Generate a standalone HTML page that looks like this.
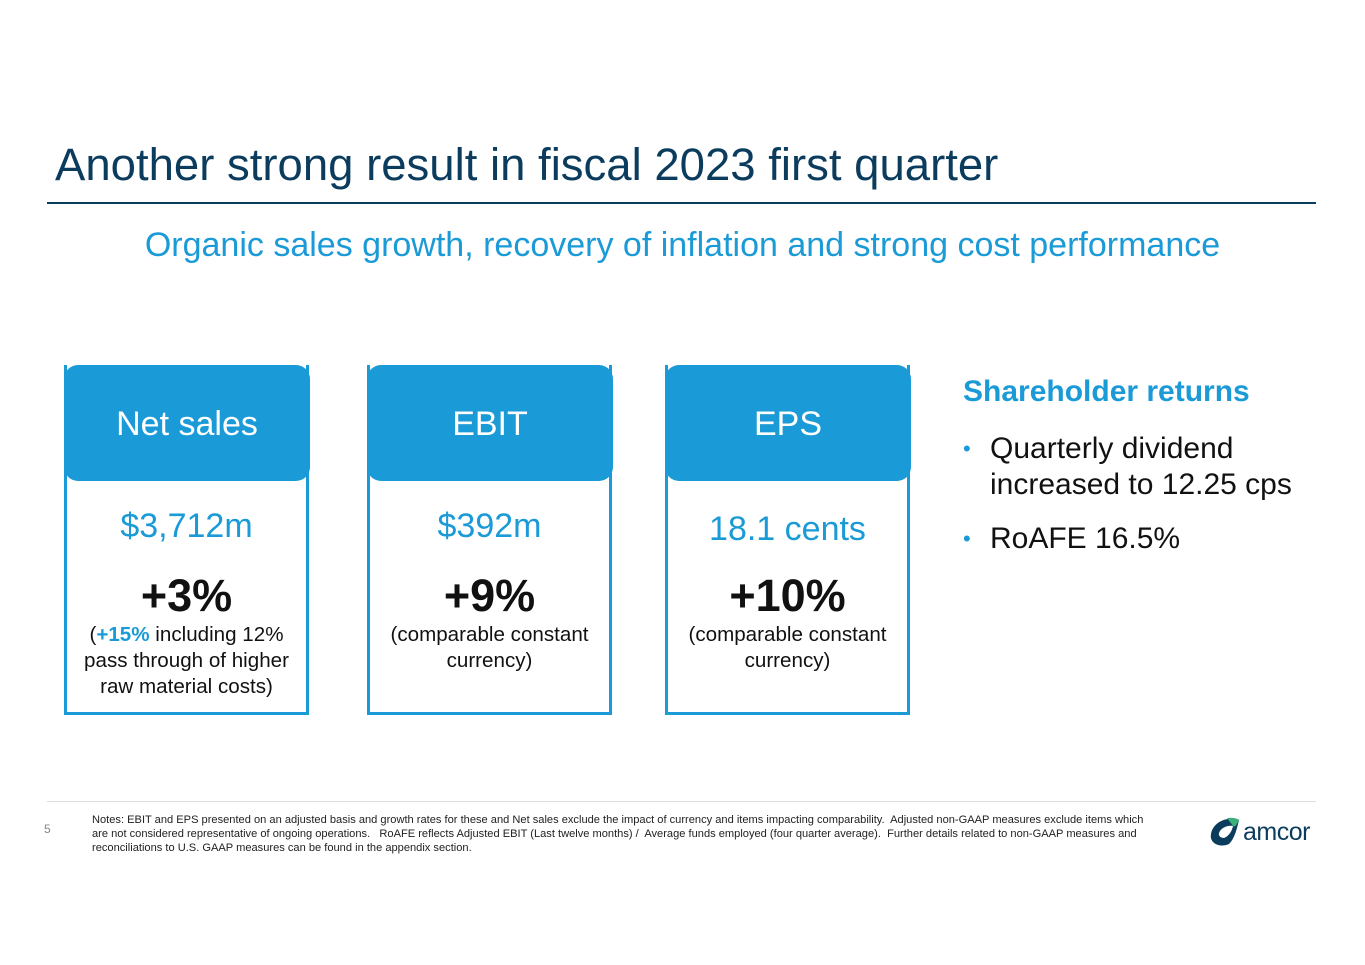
<!DOCTYPE html>
<html><head><meta charset="utf-8"><style>
body{margin:0;width:1365px;height:965px;background:#fff;position:relative;overflow:hidden;font-family:"Liberation Sans",Arial,sans-serif}
.a{position:absolute}
.card{position:absolute;top:365px;width:239px;height:347px;border:3px solid #1a9ad6;border-top:none;box-sizing:content-box}
.hd{position:absolute;left:-3px;top:0;width:246px;height:116px;background:#1a9ad6;border-radius:14px;color:#fff;font-size:34px;text-align:center;line-height:118px}
.val{position:absolute;left:0;width:100%;text-align:center;color:#1a9ad6;font-size:34px}
.pct{position:absolute;left:0;width:100%;text-align:center;color:#111;font-size:45px;font-weight:bold}
.sub{position:absolute;left:0;width:100%;text-align:center;color:#111;font-size:20.6px;line-height:26px}
</style></head><body>
<div class="a" style="left:55px;top:139px;font-size:45.5px;color:#0b3c5d">Another strong result in fiscal 2023 first quarter</div>
<div class="a" style="left:47px;top:202px;width:1269px;height:2px;background:#0b3c5d"></div>
<div class="a" style="left:0;width:1365px;text-align:center;top:226px;font-size:34px;color:#1a9ad6">Organic sales growth, recovery of inflation and strong cost performance</div>

<div class="card" style="left:64px">
 <div class="hd">Net sales</div>
 <div class="val" style="top:142px">$3,712m</div>
 <div class="pct" style="top:205px">+3%</div>
 <div class="sub" style="top:257px">(<b style="color:#1a9ad6">+15%</b> including 12%<br>pass through of higher<br>raw material costs)</div>
</div>
<div class="card" style="left:367px">
 <div class="hd">EBIT</div>
 <div class="val" style="top:142px">$392m</div>
 <div class="pct" style="top:205px">+9%</div>
 <div class="sub" style="top:257px">(comparable constant<br>currency)</div>
</div>
<div class="card" style="left:665px">
 <div class="hd">EPS</div>
 <div class="val" style="top:145px">18.1 cents</div>
 <div class="pct" style="top:205px">+10%</div>
 <div class="sub" style="top:257px">(comparable constant<br>currency)</div>
</div>

<div class="a" style="left:963px;top:375px;font-size:30px;font-weight:bold;color:#1a9ad6">Shareholder returns</div>
<div class="a" style="left:963px;top:431px;font-size:30px;color:#111;line-height:36px">
 <div style="position:relative;padding-left:27px"><span style="position:absolute;left:0;color:#1a9ad6;font-size:22px">•</span>Quarterly dividend<br>increased to 12.25 cps</div>
 <div style="position:relative;padding-left:27px;margin-top:18px"><span style="position:absolute;left:0;color:#1a9ad6;font-size:22px">•</span>RoAFE 16.5%</div>
</div>

<div class="a" style="left:47px;top:801px;width:1269px;height:1px;background:#ddd"></div>
<div class="a" style="left:44px;top:822px;font-size:12px;color:#888">5</div>
<div class="a" style="left:92px;top:813px;white-space:nowrap;font-size:11.1px;line-height:14px;color:#222">Notes: EBIT and EPS presented on an adjusted basis and growth rates for these and Net sales exclude the impact of currency and items impacting comparability.&nbsp; Adjusted non-GAAP measures exclude items which<br>are not considered representative of ongoing operations.&nbsp;&nbsp; RoAFE reflects Adjusted EBIT (Last twelve months) /&nbsp; Average funds employed (four quarter average).&nbsp; Further details related to non-GAAP measures and<br>reconciliations to U.S. GAAP measures can be found in the appendix section.</div>
<div class="a" style="left:1207px;top:816px;width:110px;height:32px">
 <svg width="36" height="32" viewBox="0 0 36 32" style="position:absolute;left:0;top:0"><path d="M4 18 C6 6 20 0 32 4 C30 12 28 22 22 28 C14 32 2 28 4 18Z" fill="#0b3c5d"/><path d="M12 17 C14 11 22 9 26 10 C25 15 22 20 17 22 C14 22 11 20 12 17Z" fill="#fff"/><path d="M20 2 C26 1 32 3 32 4 C30 8 28 12 26 10 C24 7 22 5 20 2Z" fill="#3bb07a"/></svg>
 <div style="position:absolute;left:36px;top:2px;font-size:25px;color:#0b3c5d;letter-spacing:-0.5px">amcor</div>
</div>
</body></html>
